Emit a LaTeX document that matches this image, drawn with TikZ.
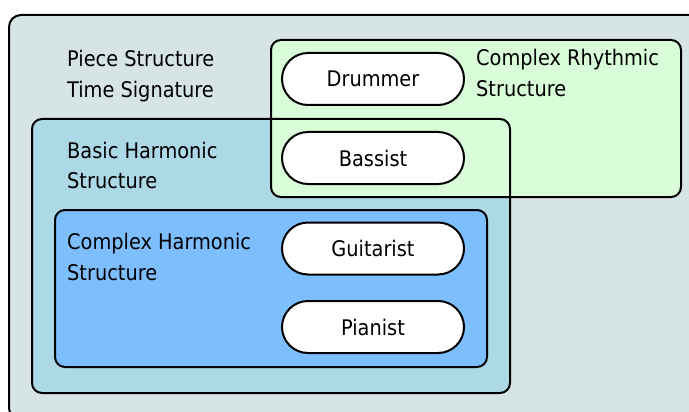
\documentclass[tikz,border=0pt]{standalone}
\usepackage{fontspec}
\setmainfont{DejaVu Sans Condensed}
\usetikzlibrary{shapes.misc}
\definecolor{outerfill}{RGB}{214,228,229}
\definecolor{rhythmfill}{RGB}{217,253,217}
\definecolor{basicfill}{RGB}{173,216,230}
\definecolor{complexfill}{RGB}{125,190,255}
\begin{document}
\begin{tikzpicture}[x=1pt,y=-1pt,
  region/.style={rounded corners=10pt},
  regionline/.style={draw=black,line width=2pt,rounded corners=10pt},
  label/.style={anchor=base west,inner sep=0pt,font=\fontsize{21.5}{26}\selectfont},
  player/.style={rounded rectangle,draw=black,line width=2pt,fill=white,
    minimum width=182pt,minimum height=52pt,inner sep=0pt,
    font=\fontsize{21.5}{26}\selectfont}]
\useasboundingbox (0,0) rectangle (689,412);

% region fills, outermost first
\fill[outerfill,draw=black,line width=2pt,rounded corners=12pt] (9,15) rectangle (705,420);
\fill[basicfill,region] (32,119) rectangle (510,393);
\fill[rhythmfill,region] (271,40) rectangle (681,197);
\fill[complexfill,region] (55,210) rectangle (487,367);

% region outlines, drawn after the fills so crossing edges stay visible
\draw[regionline] (32,119) rectangle (510,393);
\draw[regionline] (271,40) rectangle (681,197);
\draw[regionline] (55,210) rectangle (487,367);

% region labels
\node[label] (piece) at (67,67) {Piece Structure};
\node[label] (time) at (67,98) {Time Signature};
\node[label] (basic1) at (67,158) {Basic Harmonic};
\node[label] (basic2) at (67,189) {Structure};
\node[label] (cplx1) at (67,249) {Complex Harmonic};
\node[label] (cplx2) at (67,280) {Structure};
\node[label] (rhy1) at (476,66) {Complex Rhythmic};
\node[label] (rhy2) at (476,97) {Structure};

% players
\node[player] (drummer) at (373,79) {Drummer};
\node[player] (bassist) at (373,158) {Bassist};
\node[player] (guitarist) at (373,248.5) {Guitarist};
\node[player] (pianist) at (373,327) {Pianist};
\end{tikzpicture}
\end{document}
